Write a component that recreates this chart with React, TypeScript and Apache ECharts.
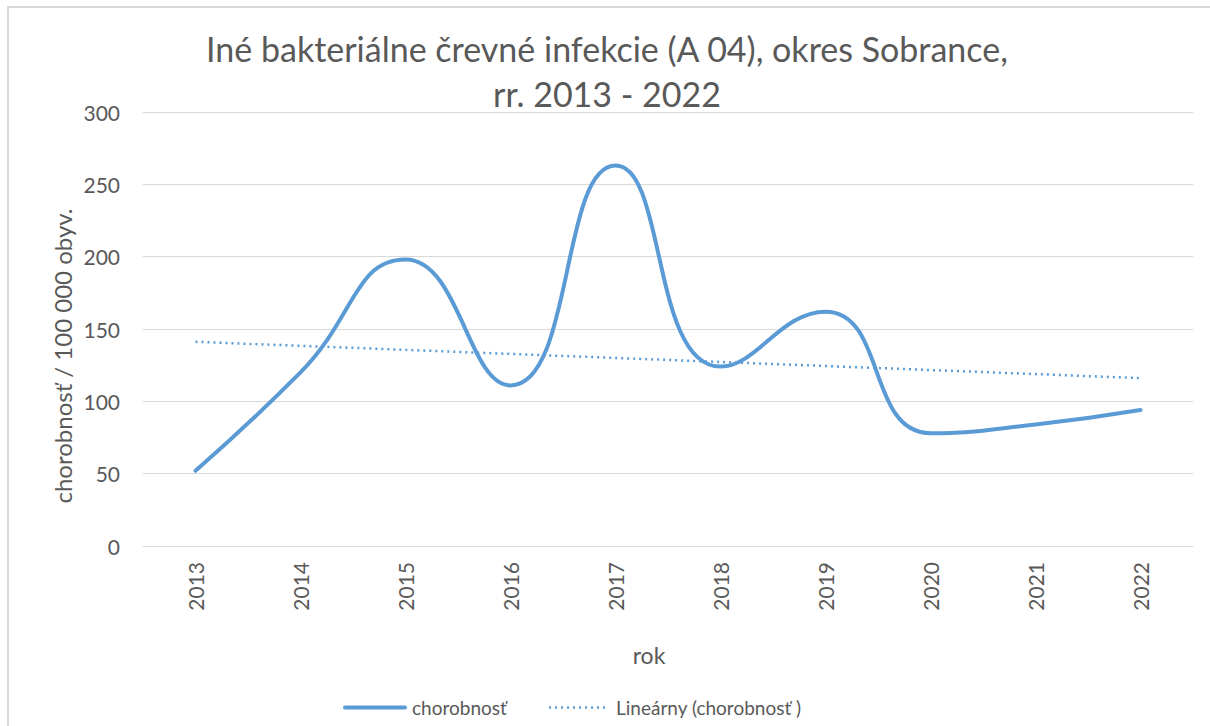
import React, { useEffect, useRef } from "react";
import * as echarts from "echarts";

const years = ["2013", "2014", "2015", "2016", "2017", "2018", "2019", "2020", "2021", "2022"];
const incidence = [52, 120, 198, 111, 263, 124, 162, 78, 84, 94];
const yTicks = [0, 50, 100, 150, 200, 250, 300];
const titleLines = ["Iné bakteriálne črevné infekcie (A 04), okres Sobrance,", "rr. 2013 - 2022"];
const seriesName = "chorobnosť";
const trendName = "Lineárny (chorobnosť )";
const yAxisTitle = "chorobnosť / 100 000 obyv.";
const xAxisTitle = "rok";

function linearTrend(values: number[]): number[] {
  const n = values.length;
  const mx = (n - 1) / 2;
  const my = values.reduce((a, b) => a + b, 0) / n;
  let sxy = 0;
  let sxx = 0;
  values.forEach((v, i) => {
    sxy += (i - mx) * (v - my);
    sxx += (i - mx) * (i - mx);
  });
  const slope = sxy / sxx;
  return values.map((_, i) => +(my + slope * (i - mx)).toFixed(2));
}

const FONT = "Lato, 'Open Sans', sans-serif";
const GREY = "#595959";
const BLUE = "#5b9bd5";

export default function App() {
  const ref = useRef<HTMLDivElement>(null);
  useEffect(() => {
    document.body.style.margin = "0";
    if (!ref.current) return;
    const chart = echarts.init(ref.current, undefined, { renderer: "svg" });
    chart.setOption({
      animation: false,
      backgroundColor: "#ffffff",
      textStyle: { fontFamily: FONT },
      title: {
        text: titleLines.join("\n"),
        left: 602,
        textAlign: "center",
        top: 21,
        textStyle: { fontFamily: FONT, fontSize: 34, fontWeight: "normal", color: GREY, lineHeight: 45 },
      },
      graphic: [
        {
          type: "rect",
          shape: { x: 8, y: 7, width: 1220, height: 740 },
          style: { fill: "none", stroke: "#d9d9d9", lineWidth: 2 },
          silent: true,
          z: -1,
        },
        {
          type: "text",
          x: 62,
          y: 356,
          rotation: Math.PI / 2,
          style: {
            text: yAxisTitle,
            fontFamily: FONT,
            fontSize: 24,
            fill: GREY,
            align: "center",
            verticalAlign: "middle",
          },
          silent: true,
        },
        {
          type: "text",
          x: 649,
          y: 655,
          style: {
            text: xAxisTitle,
            fontFamily: FONT,
            fontSize: 23,
            fill: GREY,
            align: "center",
            verticalAlign: "middle",
          },
          silent: true,
        },
      ],
      grid: { left: 143, right: 17, top: 112, bottom: 180, outerBoundsMode: "none" },
      legend: {
        top: 693,
        left: 338,
        itemGap: 41,
        itemWidth: 60,
        itemHeight: 20,
        itemStyle: { opacity: 0 },
        textStyle: { fontFamily: FONT, fontSize: 19, color: GREY, padding: [0, 0, 0, 2] },
        data: [
          { name: seriesName, lineStyle: { width: 4, color: BLUE, type: "solid", cap: "round" } },
          { name: trendName, lineStyle: { width: 2.5, color: BLUE, type: [2, 4] } },
        ],
      },
      xAxis: {
        type: "category",
        data: years,
        boundaryGap: true,
        axisLine: { lineStyle: { color: "#d9d9d9", width: 1 } },
        axisTick: { show: false },
        axisLabel: { rotate: 90, margin: 16, fontSize: 21, color: GREY, fontFamily: FONT },
      },
      yAxis: {
        type: "value",
        min: yTicks[0],
        max: yTicks[yTicks.length - 1],
        interval: 50,
        axisLine: { show: false },
        axisTick: { show: false },
        splitLine: { lineStyle: { color: "#d9d9d9", width: 1 } },
        axisLabel: { fontSize: 21, color: GREY, fontFamily: FONT, margin: 23 },
      },
      series: [
        {
          name: seriesName,
          type: "line",
          data: incidence,
          smooth: 0.5,
          symbol: "none",
          lineStyle: { color: BLUE, width: 4, cap: "round" },
          itemStyle: { color: BLUE },
          z: 3,
        },
        {
          name: trendName,
          type: "line",
          data: linearTrend(incidence),
          symbol: "none",
          lineStyle: { color: BLUE, width: 2.5, type: [2, 4] },
          itemStyle: { color: BLUE },
          z: 2,
        },
      ],
    });
    return () => chart.dispose();
  }, []);
  return <div ref={ref} style={{ width: 1210, height: 726 }} />;
}
